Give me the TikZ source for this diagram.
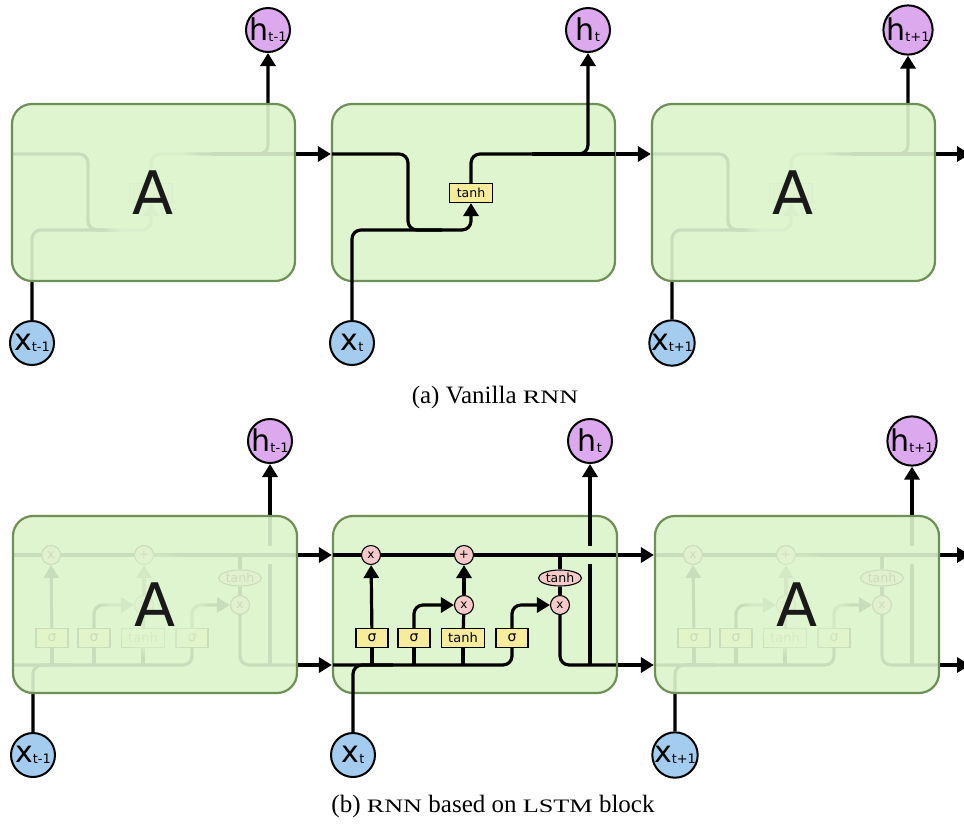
\documentclass[tikz,border=0pt]{standalone}
\usepackage{fontspec}
\setmainfont{Liberation Serif}
\newfontfamily\dejavu{DejaVu Sans}
\usetikzlibrary{arrows.meta,positioning,shapes.geometric,fadings}
\definecolor{cellG}{HTML}{DFF5D0}
\definecolor{cellB}{HTML}{6E8F55}
\definecolor{hC}{HTML}{DCA9EE}
\definecolor{xC}{HTML}{A3CCEE}
\definecolor{gateY}{HTML}{F6EC9B}
\definecolor{opP}{HTML}{F7CACA}
\tikzset{
  wire/.style={line width=3.2pt, black},
  arr/.style={-{Triangle[length=13pt,width=15pt]}},
  cellbox/.style={draw=cellB, fill=cellG, line width=2.2pt, rounded corners=20pt,
    minimum width=283pt, minimum height=177pt, inner sep=0pt,
    font=\dejavu\fontsize{60}{60}\selectfont, text=black!90},
  faded/.style={fill opacity=0.9, text opacity=1},
  glow/.style={fill=cellG, fill opacity=0.75, path fading=circle with fuzzy edge 20 percent},
  hnode/.style={circle, draw, line width=2pt, fill=hC, minimum size=44pt, inner sep=0pt, font=\dejavu},
  xnode/.style={circle, draw, line width=2pt, fill=xC, minimum size=44pt, inner sep=0pt, font=\dejavu},
  gatebox/.style={draw, line width=1.2pt, fill=gateY, minimum height=19pt, minimum width=32pt,
    inner sep=0pt, font=\dejavu\fontsize{14}{14}\selectfont},
  opnode/.style={circle, draw, line width=1.1pt, fill=opP, minimum size=19pt, inner sep=0pt,
    font=\dejavu\fontsize{12}{12}\selectfont},
  opell/.style={ellipse, draw, line width=1.1pt, fill=opP, minimum width=43pt, minimum height=16pt,
    inner sep=0pt, font=\dejavu\fontsize{12.5}{12.5}\selectfont},
  capt/.style={font=\fontsize{25}{25}\selectfont},
}
\newcommand{\lbl}[2]{{\fontsize{30}{30}\selectfont #1}\raisebox{-1pt}{\fontsize{13}{13}\selectfont #2}}
\newcommand{\smc}[1]{\scalebox{1.38}[1]{\fontsize{19}{19}\selectfont #1}}

% vanilla cell, coordinates from the box's top left corner
\newcommand{\rnnwires}[3]{%
  \node[hnode] (h#1) at (256,-74) {\lbl{h}{#2}};
  \node[xnode] (x#1) at (20,239) {\lbl{x}{#2}};
  \node[gatebox, minimum width=43pt, font=\dejavu\fontsize{12.5}{12.5}\selectfont] (T#1) at (139,89) {#3};
  \draw[wire, arr, rounded corners=9pt] (0,50) -| (76,126) -| (T#1.south);
  \draw[wire, rounded corners=9pt] (x#1) |- (110,126);
  \draw[wire, arr, rounded corners=9pt] (T#1.north) |- (200,50) -| (h#1);
  \draw[wire] (200,50) -- (283,50);
}

% lstm cell, same origin
\newcommand{\lstmwires}[2]{%
  \node[hnode] (h#1) at (257,-75) {\lbl{h}{#2}};
  \node[xnode] (x#1) at (20,239) {\lbl{x}{#2}};
  \node[opnode] (mf#1) at (38,39) {x};
  \node[opnode] (pl#1) at (131,39) {+};
  \node[opnode] (mi#1) at (131,89) {x};
  \node[opnode] (mo#1) at (227,89) {x};
  \node[opell] (th#1) at (227,62) {tanh};
  \node[gatebox] (sf#1) at (39,122) {σ};
  \node[gatebox] (si#1) at (81,122) {σ};
  \node[gatebox, minimum width=43pt, font=\dejavu\fontsize{13}{13}\selectfont] (tg#1) at (130,122) {tanh};
  \node[gatebox] (so#1) at (179,122) {σ};
  % cell state
  \draw[wire] (0,39) -- (mf#1);
  \draw[wire] (mf#1) -- (pl#1);
  \draw[wire] (pl#1) -- (283,39);
  % hidden state and input
  \draw[wire, rounded corners=9pt] (0,149) -| (so#1.south);
  \draw[wire] (sf#1.south |- 0,149) -- (sf#1.south);
  \draw[wire] (si#1.south |- 0,149) -- (si#1.south);
  \draw[wire] (tg#1.south |- 0,149) -- (tg#1.south);
  \draw[wire, rounded corners=9pt] (x#1) |- (60,149);
  % gates
  \draw[wire, arr] (sf#1) -- (mf#1);
  \draw[wire, arr, rounded corners=9pt] (si#1.north) |- (mi#1);
  \draw[wire] (tg#1) -- (mi#1);
  \draw[wire, arr] (mi#1) -- (pl#1);
  \draw[wire, arr, rounded corners=9pt] (so#1.north) |- (mo#1);
  \draw[wire] (227,39) -- (th#1);
  \draw[wire] (th#1) -- (mo#1);
  \draw[wire, rounded corners=9pt] (mo#1) |- (283,149);
  % output, with a gap over the cell state
  \draw[wire] (257,149) -- (257,48);
  \draw[wire, arr] (257,30) -- (h#1);
}

\begin{document}
\begin{tikzpicture}[x=1pt,y=-1pt]
\useasboundingbox (0,0) rectangle (964,823);

% ===================== (a) vanilla rnn =====================
\foreach \i/\sx/\sub in {1/12/t-1, 3/652/t+1}{
  \begin{scope}[shift={(\sx,104)}]
    \fill[cellG, rounded corners=20pt] (0,0) rectangle (283,177);
    \rnnwires{a\i}{\sub}{}
    \fill[glow] (141.5,90) circle (62);
    \node[cellbox, faded] (va\i) at (141.5,88.5) {A};
  \end{scope}}
\begin{scope}[shift={(332,104)}]
  \node[cellbox] (va2) at (141.5,88.5) {};
  \rnnwires{a2}{t}{tanh}
\end{scope}
\coordinate (ea) at (970,154);
\draw[wire, arr] (va1.east |- 0,154) -- (va2.west |- 0,154);
\draw[wire, arr] (va2.east |- 0,154) -- (va3.west |- 0,154);
\draw[wire, arr] (va3.east |- ea) -- (ea);
\node[capt] (capa) at (495,397) {(a) Vanilla \smc{RNN}};

% ===================== (b) lstm =====================
\foreach \i/\sx/\sub in {1/13/t-1, 3/655/t+1}{
  \begin{scope}[shift={(\sx,516)}]
    \fill[cellG, rounded corners=20pt] (0,0) rectangle (284,177);
    \lstmwires{b\i}{\sub}
    \fill[glow, fill opacity=0.5] (142,88) circle (55);
    \node[cellbox, minimum width=284pt, faded] (ls\i) at (142,88.5) {A};
  \end{scope}}
\begin{scope}[shift={(333,516)}]
  \node[cellbox, minimum width=284pt] (ls2) at (142,88.5) {};
  \lstmwires{b2}{t}
\end{scope}
\coordinate (ec) at (970,555);
\coordinate (eh) at (970,665);
\foreach \y/\e in {555/ec, 665/eh}{
  \draw[wire, arr] (ls1.east |- 0,\y) -- (ls2.west |- 0,\y);
  \draw[wire, arr] (ls2.east |- 0,\y) -- (ls3.west |- 0,\y);
  \draw[wire, arr] (ls3.east |- \e) -- (\e);}
\node[capt] (capb) at (493,806) {(b) \smc{RNN} based on \smc{LSTM} block};

\end{tikzpicture}
\end{document}
